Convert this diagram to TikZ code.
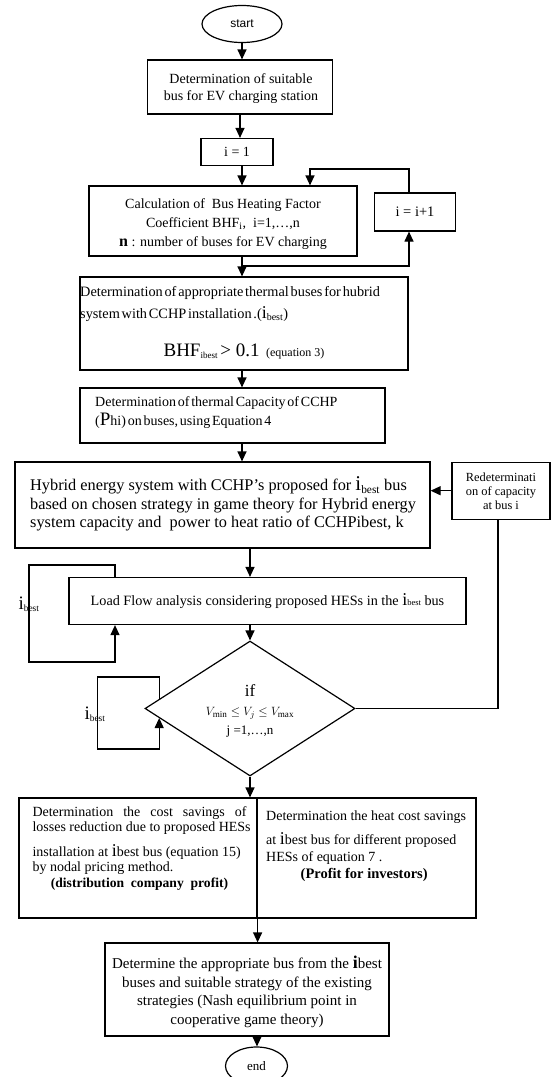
\documentclass[tikz,border=0pt]{standalone}
\usepackage{fontspec}
\setmainfont{Liberation Serif}
\newfontfamily\arialf{Liberation Sans}
\usetikzlibrary{arrows.meta,shapes.geometric,calc}
\newcommand{\fs}[2]{\fontsize{#1}{#2}\selectfont}
\newcommand{\tsp}{\spaceskip=1.8pt plus 0.5pt\relax}
\newcommand{\nolsk}{\lineskiplimit=-20pt\relax}
\begin{document}
\begin{tikzpicture}[x=1pt,y=-1pt,
  box/.style={draw, line width=1.2pt, rectangle, inner sep=0pt},
  oval/.style={draw, line width=1.2pt, ellipse, inner sep=0pt},
  conn/.style={line width=1.2pt},
  arr/.style={conn, -{Triangle[length=10pt,width=9pt]}},
  txt/.style={inner sep=0pt}
]
\useasboundingbox (0,0) rectangle (550,1077);

% nodes
\node[oval, minimum width=80pt, minimum height=37pt, font=\arialf\fs{12}{14}] (start) at (242,24) {start};
\node[box, minimum width=185pt, minimum height=54pt] (b1) at (240,87) {};
\node[txt, align=center, font=\fs{14}{17}] (b1t) at (241,89) {Determination of suitable\\bus for EV charging station};
\node[box, minimum width=72pt, minimum height=27pt, font=\fs{14}{16}] (i1) at (237,152) {i = 1};
\node[box, minimum width=268pt, minimum height=70pt] (bhf) at (223,221) {};
\node[txt, align=center, font=\fs{14}{19.2}] (bhft) at (223,224) {Calculation of\ \ Bus Heating Factor\\Coefficient BHF\textsubscript{i},\ \ i=1,\dots,n\\{\fs{16}{16}\textbf{n}} : number of buses for EV charging};
\node[box, minimum width=81pt, minimum height=38pt, font=\fs{14.5}{16}] (inc) at (415,212) {i = i+1};

\node[box, minimum width=328pt, minimum height=93pt] (th) at (244,323.5) {};
\node[txt, anchor=west, align=left, font=\fs{14.3}{22}] (tht) at (80,304) {\tsp Determination of appropriate thermal buses for hubrid\\\tsp system with CCHP installation .({\fs{18}{18}i}\textsubscript{best})};
\node[txt, font=\fs{13}{16}] (thf) at (244,351) {{\fs{19}{19}BHF}\textsubscript{ibest}\,{\fs{19}{19}> 0.1}\ \ {\fs{12}{12}(equation 3)}};

\node[box, minimum width=305pt, minimum height=55pt] (cap) at (232.5,415.5) {};
\node[txt, anchor=west, align=left, font=\fs{14}{18.4}] (capt) at (95,412.5) {\tsp Determination of thermal Capacity of CCHP\\\tsp({\fs{19}{19}P}hi) on buses, using Equation 4};

\node[box, minimum width=415pt, minimum height=86pt] (hyb) at (222.5,505) {};
\node[txt, anchor=west, align=left, font=\fs{16.3}{18.3}] (hybt) at (30,504) {Hybrid energy system with CCHP's proposed for {\fs{21}{21}i}\textsubscript{best} bus\\based on chosen strategy in game theory for Hybrid energy\\system capacity and\ \ power to heat ratio of CCHPibest, k};

\node[box, minimum width=98pt, minimum height=57pt, align=center, font=\fs{12.4}{13.8}] (redet) at (501,491) {Redeterminati\\on of capacity\\at bus i};

\node[box, minimum width=397pt, minimum height=47pt, font=\fs{14.2}{16}] (lf) at (267.5,601) {Load Flow analysis considering proposed HESs in the {\fs{18}{18}i}{\fs{8.5}{8.5}best} bus};

\node[draw, line width=1.2pt, diamond, minimum width=210pt, minimum height=135pt, inner sep=0pt] (dia) at (250,708.5) {};
\node[txt, align=center, font=\fs{13}{19}] (diat) at (250,711) {{\fs{17}{17}if}\\$V_{\mathrm{min}}\le V_j\le V_{\mathrm{max}}$\\j =1,\dots,n};

\node[box, minimum width=238pt, minimum height=120pt] (cl) at (138,858) {};
\node[box, minimum width=219pt, minimum height=120pt] (cr) at (366.5,858) {};
\node[txt, anchor=north west, align=left, font=\fs{14}{15}] (clt) at (32.3,806) {\nolsk\makebox[214pt][s]{Determination the cost savings of}\\losses reduction due to proposed HESs\\[10pt]installation at {\fs{18}{18}i}best bus (equation 15)\\by nodal pricing method.\\[1.6pt]\makebox[214pt][c]{\fs{13.6}{15}\textbf{(distribution\ \ company\ \ profit)}}};
\node[txt, anchor=north west, align=left, font=\fs{14}{16.8}] (crt) at (266,811) {\nolsk Determination the heat cost savings\\[7pt]at {\fs{18}{18}i}best bus for different proposed\\HESs of equation 7 .\\\makebox[196pt][c]{\fs{14.5}{16}\textbf{(Profit for investors)}}};

\node[box, minimum width=284pt, minimum height=93pt] (fin) at (247,989.5) {};
\node[txt, align=center, font=\fs{15}{18.7}] (fint) at (247,992) {Determine the appropriate bus from the {\fs{18}{18}\textbf{i}}best\\buses and suitable strategy of the existing\\strategies (Nash equilibrium point in\\cooperative game theory)};
\node[oval, minimum width=62pt, minimum height=38pt, font=\fs{13}{16}] (end) at (256.5,1066) {end};

% labels
\node[txt, font=\fs{13.5}{16}] (lb1) at (29,604) {{\fs{19}{19}i}\textsubscript{best}};
\node[txt, font=\fs{13.5}{16}] (lb2) at (95,714) {{\fs{19}{19}i}\textsubscript{best}};

% connectors
\draw[arr] (start.south) -- (start.south |- b1.north);
\draw[arr] (b1.south) -- (b1.south |- i1.north);
\coordinate (c1) at (242,0);
\draw[arr] (i1.south -| c1) -- (bhf.north -| c1);
\coordinate (j1) at (242,266);
\draw[arr] (bhf.south -| c1) -- (th.north -| c1);
\coordinate (incx) at (409,0);
\draw[arr] (j1) -| (inc.south -| incx);
\coordinate (tp) at (310,169);
\draw[arr] (inc.north -| incx) |- (tp) -- (bhf.north -| tp);
\draw[arr] (th.south -| c1) -- (cap.north -| c1);
\draw[arr] (cap.south -| c1) -- (hyb.north -| c1);
\coordinate (c2) at (250,0);
\draw[arr] (hyb.south -| c2) -- (lf.north -| c2);
\draw[arr] (lf.south -| c2) -- (dia.north);
\draw[arr] (dia.south) -- (cl.north -| dia.south);
\coordinate (c3) at (257,0);
\draw[arr] (cl.south east) -- (fin.north -| cl.south east);
\draw[arr] (fin.south -| c3) -- (end.north -| c3);
% redetermination
\coordinate (ry) at (0,490.7);
\draw[arr] (redet.west |- ry) -- (hyb.east |- ry);
\coordinate (rx) at (498,0);
\draw[conn] (redet.south -| rx) |- (dia.east);
% load flow loop
\coordinate (l1) at (115,565);
\coordinate (l2) at (29,662);
\draw[arr] (lf.north -| l1) -- (l1) -| (l2) -| (lf.south -| l1);
% diamond loop
\coordinate (d1) at ($(dia.west)!0.14!(dia.north)$);
\coordinate (d2) at ($(dia.west)!0.14!(dia.south)$);
\coordinate (d3) at (97.5,677);
\coordinate (d4) at (97.5,749);
\draw[arr] (d1) |- (d3) -- (d4) -| (d2);
\end{tikzpicture}
\end{document}
